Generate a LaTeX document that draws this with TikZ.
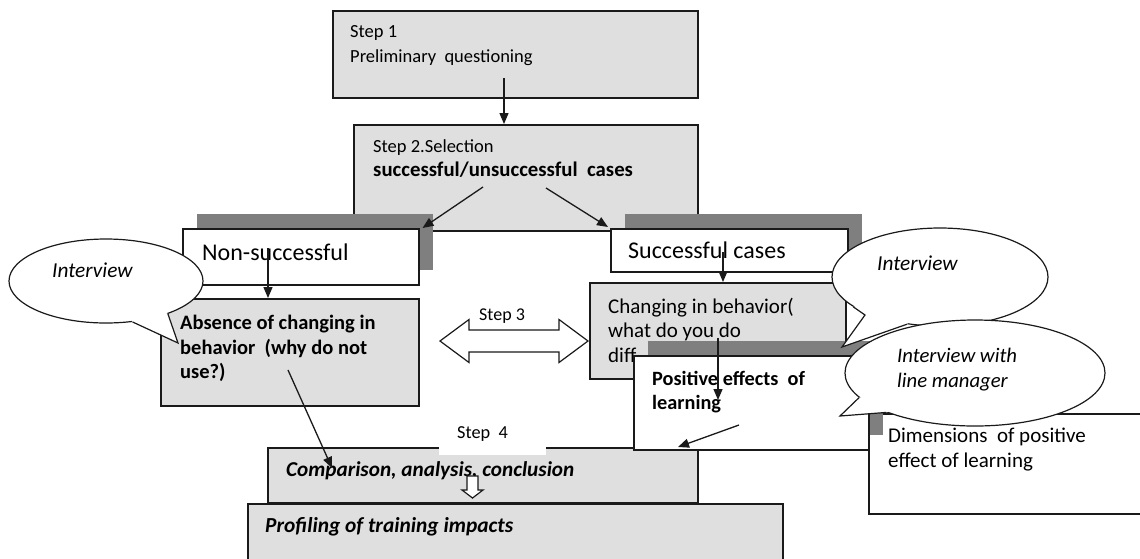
\documentclass[tikz,border=0pt]{standalone}
\usepackage{fontspec}
\setmainfont{Carlito}
\usetikzlibrary{arrows.meta,shapes.geometric}
\definecolor{boxgray}{HTML}{DFDFDF}
\definecolor{shadowgray}{HTML}{7F7F7F}
\definecolor{edge}{HTML}{1A1A1A}
\newcommand\setfs[1]{\fontsize{#1}{#1}\selectfont}
\tikzset{
  graybox/.style={draw=edge, line width=1.5pt, fill=boxgray, anchor=north west, inner sep=0pt},
  whitebox/.style={draw=edge, line width=1.5pt, fill=white, anchor=north west, inner sep=0pt},
  shadowbox/.style={fill=shadowgray, anchor=north west, inner sep=0pt},
  txt/.style={anchor=base west, inner sep=0pt, text=black},
  conn/.style={draw=edge, line width=1.3pt, -{Triangle[length=11pt,width=9pt]}},
  bubble/.style={ellipse, draw=edge, line width=1.2pt, fill=white, inner sep=0pt},
  pointerfill/.style={fill=white},
  pointerline/.style={draw=edge, line width=1.2pt, line join=miter},
  hollow/.style={draw=edge, line width=1.2pt, fill=white},
}
\begin{document}
\begin{tikzpicture}[x=1pt,y=-1pt]
\useasboundingbox (0,0) rectangle (1140,558);
\clip (0,0) rectangle (1140,558);
\fill[white] (0,0) rectangle (1140,558);

% Step 1
\node[graybox, minimum width=365pt, minimum height=87pt] (s1) at (332,10) {};
\node[txt, font={\setfs{18.5}}] (s1a) at (350,37) {Step 1};
\node[txt, font={\setfs{18.5}}] (s1b) at (350,62) {Preliminary\ \ questioning};

% Step 2
\node[graybox, minimum width=344pt, minimum height=106pt] (s2) at (353,124) {};
\node[txt, font={\setfs{18.5}}] (s2a) at (373,152) {Step 2.Selection};
\node[txt, font={\setfs{20.8}\bfseries}] (s2b) at (373,176) {successful/unsuccessful\ \ cases};

\coordinate (c12) at (504,78);
\draw[conn] (c12) -- (c12 |- s2.north);

% Non-successful
\node[shadowbox, minimum width=236pt, minimum height=56pt] (nonsh) at (197,214) {};
\node[whitebox, minimum width=236pt, minimum height=56pt] (non) at (182,228) {};
\node[txt, font={\setfs{24}}] (nont) at (202,260) {Non-successful};

% Successful
\node[shadowbox, minimum width=237pt, minimum height=43pt] (sucsh) at (625,214) {};
\node[whitebox, minimum width=237pt, minimum height=43pt] (suc) at (610,228) {};
\node[txt, font={\setfs{24}}] (suct) at (628,258) {Successful cases};

\coordinate (c2l) at (483,187);
\coordinate (c2r) at (546,188);
\draw[conn] (c2l) -- ([xshift=3pt]non.north east);
\draw[conn] (c2r) -- ([xshift=-2pt,yshift=1pt]suc.north west);

% Absence
\node[graybox, minimum width=258pt, minimum height=107pt] (abs) at (160,298) {};
\node[txt, font={\setfs{20.5}\bfseries}] (absa) at (180,329) {Absence of changing in};
\node[txt, font={\setfs{20.5}\bfseries}] (absb) at (180,354) {behavior\ \ (why do not};
\node[txt, font={\setfs{20.5}\bfseries}] (absc) at (180,378) {use?)};

% Changing
\node[graybox, minimum width=256pt, minimum height=96pt] (chg) at (589,282) {};
\node[txt, font={\setfs{21}}] (chga) at (608,313) {Changing in behavior(};
\node[txt, font={\setfs{21}}] (chgb) at (608,337) {what do you do};
\node[txt, font={\setfs{21}}] (chgc) at (608,362) {diff};

\coordinate (cna) at (268,248);
\draw[conn] (cna) -- (cna |- abs.north);
\coordinate (csc) at (723,252);
\draw[conn] (csc) -- (csc |- chg.north);

% left interview bubble
\node[bubble, minimum width=194pt, minimum height=84pt] (bub1) at (106,281) {};
\coordinate (tip1) at (178,343);
\fill[pointerfill] (bub1.-28) -- (tip1) -- (bub1.-57) -- (bub1.center) -- cycle;
\draw[pointerline] (bub1.-28) -- (tip1) -- (bub1.-57);
\node[txt, font={\setfs{21.3}\itshape}] (bub1t) at (52,277) {Interview};

% Step 3 double arrow
\draw[hollow] (440,341) -- (469,319.5) -- (469,330) -- (559,330) -- (559,319.5) -- (588,341)
  -- (559,362.5) -- (559,352) -- (469,352) -- (469,362.5) -- cycle;
\node[txt, font={\setfs{18}}] (st3) at (479,320) {Step 3};

% Comparison
\node[graybox, minimum width=430pt, minimum height=55pt] (cmp) at (267,447) {};
\fill[white] (439,418) rectangle (546,455);
\node[txt, font={\setfs{18.3}}] (st4) at (457,438) {Step\ \ 4};
\node[txt, font={\setfs{21.2}\bfseries\itshape}] (cmpt) at (286,476) {Comparison, analysis, conclusion};

% Profiling
\node[graybox, minimum width=535pt, minimum height=70pt] (prf) at (247,503) {};
\node[txt, font={\setfs{21.4}\bfseries\itshape}] (prft) at (265,532) {Profiling of training impacts};

% hollow down arrow
\draw[hollow] (467,476) -- (478,476) -- (478,490) -- (483,490) -- (472.5,498) -- (462,490) -- (467,490) -- cycle;

% Absence -> comparison
\coordinate (cab) at (288,370);
\coordinate (ccm) at (332,468);
\draw[conn] (cab) -- (ccm);

% Dimensions
\node[whitebox, minimum width=290pt, minimum height=100pt] (dim) at (868,413) {};
\node[txt, font={\setfs{21}}] (dima) at (888,442) {Dimensions\ \ of positive};
\node[txt, font={\setfs{21}}] (dimb) at (888,467) {effect of learning};

% Positive effects
\node[shadowbox, minimum width=235pt, minimum height=94pt] (possh) at (648,341) {};
\node[whitebox, minimum width=235pt, minimum height=94pt] (pos) at (633,355) {};
\node[txt, font={\setfs{20.3}\bfseries}] (posa) at (652,385) {Positive effects\ \ of};
\node[txt, font={\setfs{20.3}\bfseries}] (posb) at (652,409) {learning};

\coordinate (ccp) at (718,338);
\coordinate (cpl) at (718,400);
\draw[conn] (ccp) -- (cpl);
\coordinate (cpc) at (739,425);
\coordinate (cpt) at (678,447);
\draw[conn] (cpc) -- (cpt);

% upper right interview bubble
\node[bubble, minimum width=216pt, minimum height=98pt] (bub2) at (940,277) {};
\coordinate (tip2) at (842,347);
\coordinate (kink2) at (865,315);
\fill[pointerfill] (bub2.-161) -- (kink2) -- (tip2) -- (bub2.-125) -- (bub2.center) -- cycle;
\draw[pointerline] (bub2.-161) -- (kink2) -- (tip2) -- (bub2.-125);
\node[txt, font={\setfs{21.3}\itshape}] (bub2t) at (877,270) {Interview};

% lower right interview bubble
\node[bubble, minimum width=260pt, minimum height=106pt] (bub3) at (975,373) {};
\coordinate (tip3) at (840,416);
\fill[pointerfill] (bub3.-168) -- (tip3) -- (bub3.-156) -- (bub3.center) -- cycle;
\draw[pointerline] (bub3.-168) -- (tip3) -- (bub3.-156);
\node[txt, font={\setfs{20.7}\itshape}] (bub3a) at (897,362) {Interview with};
\node[txt, font={\setfs{20.7}\itshape}] (bub3b) at (897,387) {line manager};
\end{tikzpicture}
\end{document}
